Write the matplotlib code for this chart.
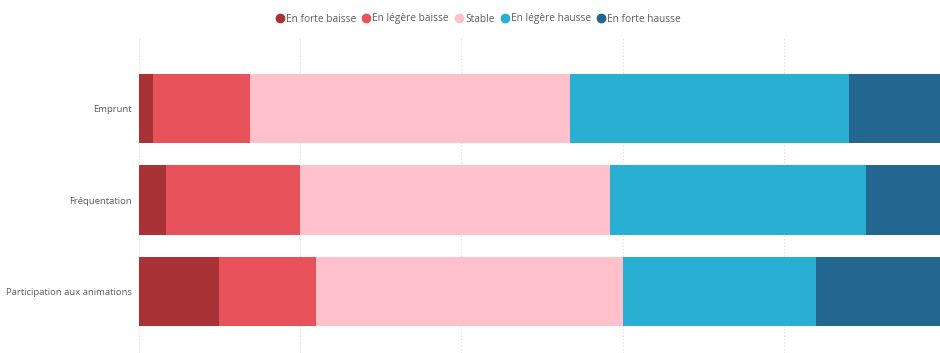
import matplotlib
matplotlib.use("Agg")
import matplotlib.pyplot as plt
from matplotlib.lines import Line2D

categories = ["Emprunt", "Fréquentation", "Participation aux animations"]
series_names = ["En forte baisse", "En légère baisse", "Stable", "En légère hausse", "En forte hausse"]
forte_baisse = [1.7, 3.3, 9.9]
legere_baisse = [12.1, 16.7, 12.0]
stable = [39.7, 38.4, 38.2]
legere_hausse = [34.6, 31.8, 23.9]
forte_hausse = [11.9, 9.8, 16.0]
series_values = [forte_baisse, legere_baisse, stable, legere_hausse, forte_hausse]
colors = ["#A83236", "#E8535B", "#FFC1CB", "#28AFD2", "#236690"]
grid_ticks = [0, 20, 40, 60, 80, 100]

plt.rcParams["font.family"] = ["Open Sans", "DejaVu Sans"]
text_color = "#605E5C"

fig = plt.figure(figsize=(9.4, 3.53), dpi=100)
W, H = 940, 353
ax = fig.add_axes([139 / W, 0, 806 / W, (H - 38) / H])

ypos = list(range(len(categories)))
left = [0.0] * len(categories)
for name, vals, col in zip(series_names, series_values, colors):
    ax.barh(ypos, vals, left=left, height=0.755, color=col, label=name, zorder=2)
    left = [l + v for l, v in zip(left, vals)]

ax.set_xlim(0, 100)
ax.set_ylim(2 + 61.5 / 91.5, -70.5 / 91.5)
ax.set_xticks(grid_ticks)
ax.set_xticklabels([])
ax.tick_params(axis="x", length=0)
ax.set_yticks(ypos)
ax.set_yticklabels(categories, fontsize=6.8, color=text_color)
ax.tick_params(axis="y", length=0, pad=5)
ax.grid(axis="x", linestyle=(0, (1, 2)), color="#DDDDDD", linewidth=0.8, zorder=0)
for s in ax.spines.values():
    s.set_visible(False)

handles = [Line2D([0], [0], marker="o", linestyle="", markersize=6,
                  markerfacecolor=c, markeredgecolor=c) for c in colors]
fig.legend(handles, series_names, loc="center", bbox_to_anchor=(478 / W, 1 - 19 / H),
           ncol=5, frameon=False, fontsize=7.3, labelcolor=text_color,
           handletextpad=0.1, columnspacing=0.5, handlelength=1.0)

fig.savefig("out.png", dpi=100)
